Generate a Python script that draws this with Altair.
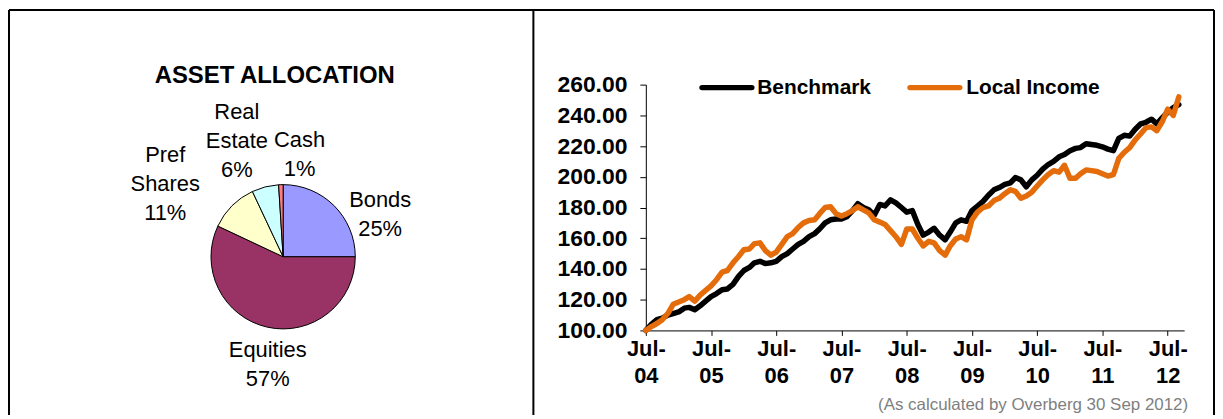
import altair as alt
import pandas as pd

# ---------------- data ----------------
categories = ["Bonds", "Equities", "Pref Shares", "Real Estate", "Cash"]
shares = [25, 57, 11, 6, 1]
pie_colors = ["#9999FF", "#993366", "#FFFFCC", "#CCFFFF", "#FF7C80"]
pie_label_text = [["Bonds", "25%"], ["Equities", "57%"], ["Pref", "Shares", "11%"],
                  ["Real", "Estate", "6%"], ["Cash", "1%"]]

series_names = ["Benchmark", "Local Income"]
series_colors = ["#000000", "#E46C0A"]

months = [f"{2004 + (6 + i) // 12}-{(6 + i) % 12 + 1:02d}-01" for i in range(99)]

benchmark = [
    100, 104, 107, 108, 110, 111, 112, 114.5, 115, 113.5, 116, 119,
    122, 124, 126.5, 127, 130, 135, 139, 141, 144, 145, 143.5, 144,
    145, 148, 150, 153, 156, 158, 161, 163, 166, 170, 172, 172.5,
    172.5, 174, 178, 182.5, 180, 178.5, 175, 182, 181, 185, 183, 180,
    177, 178, 169, 162, 164, 166.5, 162, 159, 164, 170, 172, 171,
    178, 181, 184, 188, 191.5, 193, 195, 196, 199.5, 198, 193.5, 198,
    201, 205, 208, 210, 213, 214.5, 217, 218.5, 219, 221.5, 221, 220.5,
    219.5, 218, 217, 225, 227, 226.5, 231, 234.5, 235.5, 237.5, 234.5, 238.5,
    242, 245, 247,
]
local_income = [
    100, 102.5, 104.5, 107, 111, 117, 118.5, 120, 122, 119, 123, 126,
    129, 133, 138, 139, 144, 148, 152.5, 153, 156.5, 157, 152, 149,
    151, 156, 161, 163, 167, 170, 171.5, 172, 176, 180, 180.5, 176,
    174.5, 176, 178, 180.5, 178.5, 176.5, 172, 170.5, 169, 165, 161, 156,
    166, 166, 160, 155, 158, 157, 152, 149, 155, 159.5, 161, 159,
    172, 177, 180, 181, 184.5, 186, 189, 191.5, 190.5, 186, 187.5, 190,
    194, 198, 201.5, 204, 203, 207.5, 199, 199, 202, 204.5, 204, 203.5,
    202, 200.5, 201.5, 212, 216, 219, 224, 228, 232, 232.5, 230, 236,
    244, 240, 252,
]

x_tick_years = list(range(2004, 2013))
y_ticks = list(range(100, 261, 20))

title_text = "ASSET ALLOCATION"
footnote_text = "(As calculated by Overberg 30 Sep 2012)"

# ---------------- layout (page pixels) ----------------
FONT = "Liberation Sans"
OX, OY = 649, 84          # page position of plot-area origin
W, H = 541, 247
PAD = {"left": OX - 8, "top": OY - 8, "right": 1213 - (OX - 8) - W, "bottom": 407 - (OY - 8) - H}


def px(x):
    return x - OX


def py(y):
    return y - OY


PIE_CX, PIE_CY, PIE_R = 284.5, 257, 72.5
# (x centre, y centre of first line)
label_pos = [(382, 200), (269, 351), (166, 155), (238, 112), (301, 140)]

# ---------------- tables ----------------
pie_df = pd.DataFrame({"category": categories, "share": shares, "idx": list(range(len(categories)))})
line_df = pd.DataFrame({
    "date": months * 2,
    "series": [series_names[0]] * len(months) + [series_names[1]] * len(months),
    "value": benchmark + local_income,
})
one = pd.DataFrame({"k": [0]})

layers = []

# frame
frame_l, frame_t, frame_r, frame_b, divider = 9, 9, 1220, 430, 536
for x1, x2, y1, y2 in [
    (frame_l, frame_r, frame_t, frame_t),
    (frame_l, frame_l, frame_t, frame_b),
    (divider, divider, frame_t, frame_b),
    (frame_r, frame_r, frame_t, frame_b),
]:
    layers.append(
        alt.Chart(one).mark_rule(color="black", strokeWidth=2).encode(
            x=alt.value(px(x1)), x2=alt.value(px(x2)), y=alt.value(py(y1)), y2=alt.value(py(y2))
        )
    )

# pie
layers.append(
    alt.Chart(pie_df).mark_arc(radius=PIE_R, stroke="black", strokeWidth=1).encode(
        theta=alt.Theta("share:Q", stack=True),
        order=alt.Order("idx:Q"),
        fill=alt.Fill("category:N", scale=alt.Scale(domain=categories, range=pie_colors), legend=None),
        x=alt.value(px(PIE_CX)),
        y=alt.value(py(PIE_CY)),
    )
)

# pie labels
for txt, (lx, ly) in zip(pie_label_text, label_pos):
    layers.append(
        alt.Chart(one).mark_text(font=FONT, fontSize=22, color="black", align="center",
                                 baseline="middle", lineHeight=29).encode(
            x=alt.value(px(lx)), y=alt.value(py(ly)), text=alt.value(txt)
        )
    )

# title
layers.append(
    alt.Chart(one).mark_text(font=FONT, fontSize=24, fontWeight="bold", color="black",
                             align="center", baseline="middle").encode(
        x=alt.value(px(276)), y=alt.value(py(75)), text=alt.value(title_text)
    )
)

# line chart
x_axis = alt.Axis(
    values=[alt.DateTime(year=y, month=7, date=1, utc=True) for y in x_tick_years],
    labelExpr="['Jul-', utcFormat(datum.value, '%y')]",
    labelFont=FONT, labelFontSize=22, labelFontWeight="bold", labelColor="black",
    labelLineHeight=27, labelPadding=3, labelAngle=0, labelAlign="center", labelBaseline="top",
    labelOverlap=False, labelFlush=False, tickSize=5, tickColor="black", domainColor="black",
    domainWidth=1, tickWidth=1, grid=False, title=None,
)
y_axis = alt.Axis(
    values=y_ticks, format=".2f",
    labelFont=FONT, labelFontSize=23, labelFontWeight="bold", labelColor="black",
    labelPadding=13, tickSize=6, tickColor="black", domainColor="black",
    domainWidth=1, tickWidth=1, grid=False, title=None,
)
layers.append(
    alt.Chart(line_df).mark_line(strokeWidth=5.5, strokeJoin="round", strokeCap="round").encode(
        x=alt.X("date:T", axis=x_axis,
                scale=alt.Scale(type="utc", domain=[alt.DateTime(year=2004, month=7, date=1, utc=True),
                                                    alt.DateTime(year=2012, month=10, date=1, utc=True)])),
        y=alt.Y("value:Q", axis=y_axis, scale=alt.Scale(domain=[100, 260], nice=False, zero=False)),
        stroke=alt.Stroke("series:N", scale=alt.Scale(domain=series_names, range=series_colors), legend=None),
    )
)

# legend (manual)
legend_pos = [(705.5, 755.5, 761), (914.5, 964.5, 971)]
for name, color, (a, b, t) in zip(series_names, series_colors, legend_pos):
    layers.append(
        alt.Chart(one).mark_rule(color=color, strokeWidth=5.5, strokeCap="round").encode(
            x=alt.value(px(a)), x2=alt.value(px(b)), y=alt.value(py(87)), y2=alt.value(py(87))
        )
    )
    layers.append(
        alt.Chart(one).mark_text(font=FONT, fontSize=21, fontWeight="bold", color="black",
                                 align="left", baseline="middle").encode(
            x=alt.value(px(t)), y=alt.value(py(87.5)), text=alt.value(name)
        )
    )

# footnote
layers.append(
    alt.Chart(one).mark_text(font=FONT, fontSize=17, color="#7F7F7F", align="right",
                             baseline="middle").encode(
        x=alt.value(px(1194)), y=alt.value(py(406)), text=alt.value(footnote_text)
    )
)

chart = alt.layer(*layers).resolve_scale(fill="independent").properties(
    width=W, height=H, padding=PAD, autosize=alt.AutoSizeParams(type="none"), background="white"
).configure_view(strokeWidth=0)

chart.save("out.html", embed_options={"renderer": "svg", "actions": False})
